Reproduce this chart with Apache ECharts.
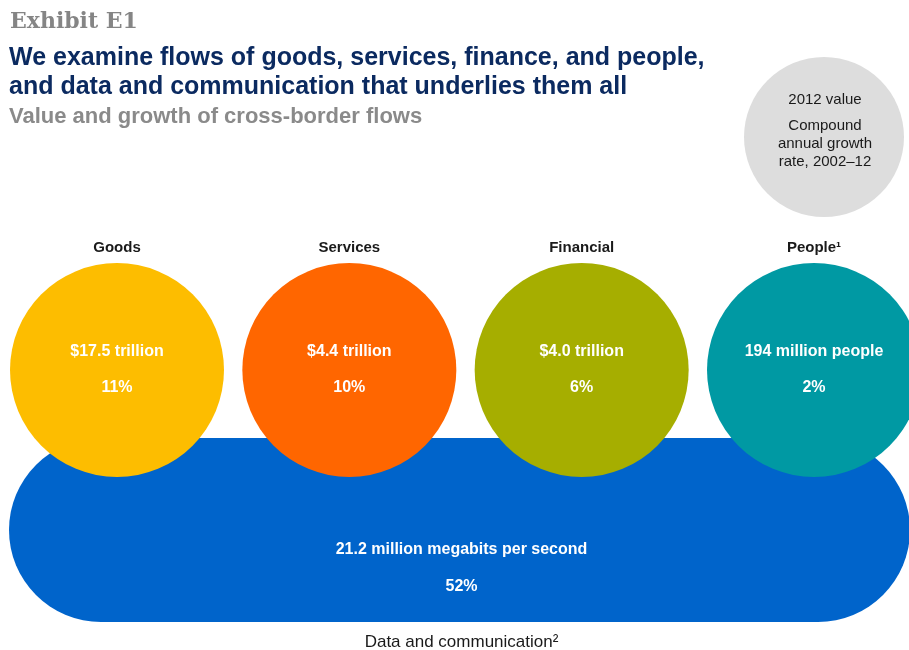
<!DOCTYPE html>
<html>
<head>
<meta charset="utf-8">
<style>
  html, body { margin: 0; padding: 0; background: #ffffff; }
  #chart { width: 909px; height: 650px; }
</style>
<script src="https://cdn.jsdelivr.net/npm/echarts@6/dist/echarts.min.js"></script>
</head>
<body>
<div id="chart"></div>
<script>
// Cross-border flow categories (top row of circles)
const categories = ['Goods', 'Services', 'Financial', 'People\u00B9'];
const values2012 = ['$17.5 trillion', '$4.4 trillion', '$4.0 trillion', '194 million people'];
const growthRates = ['11%', '10%', '6%', '2%'];

// Underlying data and communication flow
const dataFlowName = 'Data and communication\u00B2';
const dataFlowValue = '21.2 million megabits per second';
const dataFlowGrowth = '52%';

// Key text
const keyLines = ['2012 value', 'Compound', 'annual growth', 'rate, 2002\u201312'];

const rows = ['flows', 'data'];
const palette = ['#FDBD00', '#FF6600', '#A6AE00', '#0099A3'];
const dataBlue = '#0064CB';
const SANS = '"Liberation Sans", Arial, sans-serif';

const chart = echarts.init(document.getElementById('chart'), null, { renderer: 'canvas' });

const keyFont = '15px ' + SANS;

const option = {
  backgroundColor: '#ffffff',
  animation: false,
  title: [
    {
      text: 'Exhibit E1', left: 5, top: 6,
      textStyle: { fontFamily: '"DejaVu Serif", "Liberation Serif", serif', fontWeight: 'bold', fontSize: 22, color: '#858585' }
    },
    {
      text: 'We examine flows of goods, services, finance, and people,\nand data and communication that underlies them all',
      left: 4, top: 39,
      textStyle: { fontFamily: SANS, fontWeight: 'bold', fontSize: 25, lineHeight: 29, color: '#0B2A60' }
    },
    {
      text: 'Value and growth of cross-border flows', left: 4, top: 101,
      textStyle: { fontFamily: SANS, fontWeight: 'bold', fontSize: 22, color: '#8a8a8a' }
    }
  ],
  grid: { left: 117, right: 95, top: 290, bottom: 40 },
  xAxis: {
    type: 'category',
    data: categories,
    position: 'top',
    boundaryGap: false,
    axisLine: { show: false },
    axisTick: { show: false },
    splitLine: { show: false },
    axisLabel: {
      margin: 35, interval: 0,
      fontFamily: SANS, fontWeight: 'bold', fontSize: 15, color: '#1a1a1a'
    }
  },
  yAxis: {
    type: 'category',
    data: rows,
    inverse: true,
    show: false
  },
  graphic: [
    {
      type: 'group',
      left: 744, top: 57,
      children: [
        { type: 'circle', shape: { cx: 80, cy: 80, r: 80 }, style: { fill: '#DDDDDD' } },
        { type: 'text', style: { text: keyLines[0], x: 81, y: 43, align: 'center', verticalAlign: 'middle', font: keyFont, fill: '#1a1a1a' } },
        { type: 'text', style: { text: keyLines[1], x: 81, y: 69, align: 'center', verticalAlign: 'middle', font: keyFont, fill: '#1a1a1a' } },
        { type: 'text', style: { text: keyLines[2], x: 81, y: 87, align: 'center', verticalAlign: 'middle', font: keyFont, fill: '#1a1a1a' } },
        { type: 'text', style: { text: keyLines[3], x: 81, y: 105, align: 'center', verticalAlign: 'middle', font: keyFont, fill: '#1a1a1a' } }
      ]
    }
  ],
  series: [
    {
      // stadium under the circles: data and communication
      type: 'custom',
      z: 1,
      data: [[0, 1]],
      renderItem: function (params, api) {
        const first = api.coord([0, 1]);
        const last = api.coord([categories.length - 1, 1]);
        const left = first[0] - 108;
        const right = last[0] + 96;
        const h = 184;
        const cy = first[1];
        const mid = (left + right) / 2 + 2;
        return {
          type: 'group',
          children: [
            {
              type: 'rect',
              shape: { x: left, y: cy - h / 2, width: right - left, height: h, r: h / 2 },
              style: { fill: dataBlue }
            },
            {
              type: 'text',
              style: { text: dataFlowValue, x: mid, y: cy + 20, align: 'center', verticalAlign: 'middle', font: 'bold 16px ' + SANS, fill: '#ffffff' }
            },
            {
              type: 'text',
              style: { text: dataFlowGrowth, x: mid, y: cy + 57, align: 'center', verticalAlign: 'middle', font: 'bold 16px ' + SANS, fill: '#ffffff' }
            },
            {
              type: 'text',
              style: { text: dataFlowName, x: mid, y: cy + 112, align: 'center', verticalAlign: 'middle', font: '17px ' + SANS, fill: '#1a1a1a' }
            }
          ]
        };
      }
    },
    {
      type: 'scatter',
      z: 2,
      symbol: 'circle',
      symbolSize: 214,
      itemStyle: { opacity: 1 },
      data: categories.map(function (c, i) {
        return { value: [i, 0], itemStyle: { color: palette[i], opacity: 1 } };
      }),
      label: {
        show: true,
        position: 'inside',
        formatter: function (p) {
          return '{a|' + values2012[p.dataIndex] + '}\n{a|' + growthRates[p.dataIndex] + '}';
        },
        rich: {
          a: { fontFamily: SANS, fontWeight: 'bold', fontSize: 16, color: '#ffffff', lineHeight: 36, align: 'center' }
        }
      },
      emphasis: { disabled: true }
    }
  ]
};

chart.setOption(option);
</script>
</body>
</html>
